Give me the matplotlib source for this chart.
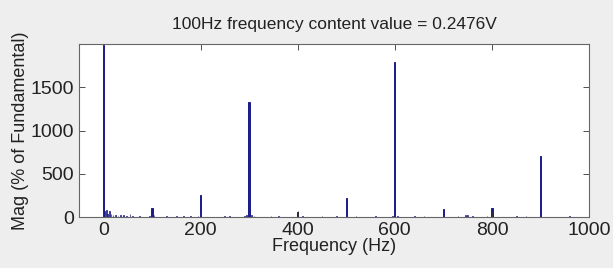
import matplotlib.pyplot as plt

plt.rcParams["font.family"] = ["Liberation Sans", "DejaVu Sans"]

# harmonic peaks (Hz, % of fundamental)
PEAK_FREQ = [0, 100, 200, 300, 400, 500, 600, 700, 800, 900]
PEAK_MAG = [1990, 105, 255, 1330, 55, 225, 1800, 95, 100, 705]

# small spectral leakage / noise components
NOISE_FREQ = [3, 6, 9, 12, 16, 20, 25, 30, 36, 42, 48, 55, 60, 75, 95, 104,
              130, 150, 165, 180, 195, 250, 260, 290, 295, 305, 310, 345,
              360, 410, 450, 480, 520, 560, 595, 605, 640, 660, 730, 745,
              750, 760, 790, 850, 870, 950, 960]
NOISE_MAG = [75, 80, 40, 70, 30, 20, 25, 15, 20, 25, 18, 30, 10, 12, 14, 20,
             10, 12, 15, 8, 10, 10, 12, 15, 20, 25, 18, 10, 12, 10, 8, 10,
             8, 10, 15, 12, 8, 10, 12, 20, 25, 10, 8, 8, 10, 6, 8]

BAR_COLOR = "#1c1c8a"

fig = plt.figure(figsize=(6.13, 2.68), dpi=100, facecolor="#eeeeee")
ax = fig.add_axes([0.129, 0.19, 0.832, 0.645])
ax.set_facecolor("white")

ax.bar(NOISE_FREQ, NOISE_MAG, width=1.5, color=BAR_COLOR,
       edgecolor=BAR_COLOR, linewidth=0.5)
ax.bar(PEAK_FREQ, PEAK_MAG, width=2.5, color=BAR_COLOR,
       edgecolor=BAR_COLOR, linewidth=0.7)

ax.set_xlim(-50, 1000)
ax.set_ylim(0, 2000)
ax.set_xticks([0, 200, 400, 600, 800, 1000])
ax.set_yticks([0, 500, 1000, 1500])
ax.tick_params(direction="in", top=True, right=True, labelsize=14,
               length=4, width=0.6, colors="#333333", labelcolor="#222222")
for s in ax.spines.values():
    s.set_color("#666666")
    s.set_linewidth(0.8)

ax.set_title("100Hz frequency content value = 0.2476V", fontsize=12.5,
             color="#222222", pad=11)
ax.set_xlabel("Frequency (Hz)", fontsize=13, color="#222222", labelpad=-1)
ax.set_ylabel("Mag (% of Fundamental)", fontsize=13, color="#222222",
              labelpad=1)

fig.savefig("out.png", dpi=100, facecolor=fig.get_facecolor())
